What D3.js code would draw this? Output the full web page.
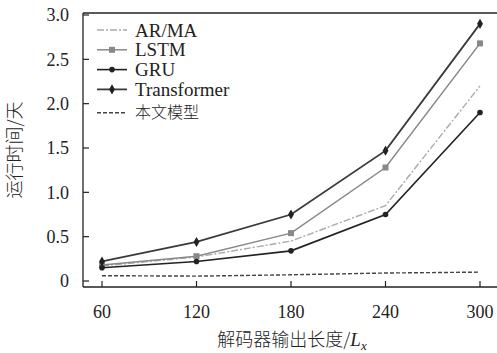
<!DOCTYPE html>
<html>
<head>
<meta charset="utf-8">
<script src="https://cdn.jsdelivr.net/npm/d3@7"></script>
<style>
  body { margin: 0; background: #fff; }
  svg { display: block; }
  text { font-family: "Liberation Serif", "Noto Sans CJK SC", serif; fill: #222; }
  .cjk { font-family: "Noto Sans CJK SC", sans-serif; font-weight: 300; }
</style>
</head>
<body>
<svg id="chart" width="497" height="353"></svg>
<script>
'use strict';

var lengths = [60, 120, 180, 240, 300];
var yTicks = [0, 0.5, 1.0, 1.5, 2.0, 2.5, 3.0];
var seriesNames = ['AR/MA', 'LSTM', 'GRU', 'Transformer', '本文模型'];
var armaValues = [0.17, 0.27, 0.45, 0.85, 2.2];
var lstmValues = [0.18, 0.28, 0.54, 1.28, 2.68];
var gruValues = [0.15, 0.22, 0.34, 0.75, 1.9];
var transformerValues = [0.22, 0.44, 0.75, 1.47, 2.9];
var oursValues = [0.06, 0.055, 0.07, 0.09, 0.1];

var svg = d3.select('#chart');
var plotLeft = 83, plotTop = 13, plotBottom = 287, plotRight = 497;

var x = d3.scaleLinear().domain([60, 300]).range([102, 480]);
var y = d3.scaleLinear().domain([0, 3]).range([281, 15]);

// series styles
var series = [
    {name: seriesNames[0], values: armaValues, color: '#aaa', width: 1.4, dash: '7,2,2,2', marker: null},
    {name: seriesNames[1], values: lstmValues, color: '#888', width: 1.5, dash: null, marker: 'square'},
    {name: seriesNames[2], values: gruValues, color: '#222', width: 1.6, dash: null, marker: 'circle'},
    {name: seriesNames[3], values: transformerValues, color: '#3a3a3a', width: 1.8, dash: null, marker: 'diamond'},
    {name: seriesNames[4], values: oursValues, color: '#444', width: 1.4, dash: '4,2', marker: null}
];

// frame: left, top, bottom lines
svg.append('line').attr('x1', plotLeft).attr('x2', plotLeft).attr('y1', plotTop).attr('y2', plotBottom)
    .attr('stroke', '#222').attr('stroke-width', 1.3);
svg.append('line').attr('x1', plotLeft).attr('x2', plotRight).attr('y1', plotTop).attr('y2', plotTop)
    .attr('stroke', '#222').attr('stroke-width', 1.3);
svg.append('line').attr('x1', plotLeft).attr('x2', plotRight).attr('y1', plotBottom).attr('y2', plotBottom)
    .attr('stroke', '#222').attr('stroke-width', 1.3);

// y ticks (inward)
var yg = svg.append('g');
yTicks.forEach(function(t) {
    yg.append('line').attr('x1', plotLeft).attr('x2', plotLeft + 6)
        .attr('y1', y(t)).attr('y2', y(t)).attr('stroke', '#222').attr('stroke-width', 1.2);
    yg.append('text').attr('x', 69).attr('y', y(t)).attr('dy', '0.35em')
        .attr('text-anchor', 'end').attr('font-size', 18)
        .text(t === 0 ? '0' : d3.format('.1f')(t));
});

// x ticks (inward)
var xg = svg.append('g');
lengths.forEach(function(t) {
    xg.append('line').attr('x1', x(t)).attr('x2', x(t))
        .attr('y1', plotBottom).attr('y2', plotBottom - 6).attr('stroke', '#222').attr('stroke-width', 1.2);
    xg.append('text').attr('x', x(t)).attr('y', 318)
        .attr('text-anchor', 'middle').attr('font-size', 18).text(t);
});

// axis titles
svg.append('text').attr('class', 'cjk')
    .attr('transform', 'translate(21,150) rotate(-90)')
    .attr('text-anchor', 'middle').attr('font-size', 18)
    .text('运行时间/天');

var xt = svg.append('text').attr('x', 292).attr('y', 346)
    .attr('text-anchor', 'middle').attr('font-size', 18);
xt.append('tspan').attr('class', 'cjk').text('解码器输出长度/');
xt.append('tspan').attr('font-style', 'italic').attr('font-size', 19).text('L');
xt.append('tspan').attr('font-style', 'italic').attr('font-size', 13).attr('dy', 4).text('x');

function drawMarker(g, kind, cx, cy, color) {
    if(kind === 'square') {
        g.append('rect').attr('x', cx - 3).attr('y', cy - 3).attr('width', 6).attr('height', 6)
            .attr('fill', color);
    } else if(kind === 'circle') {
        g.append('circle').attr('cx', cx).attr('cy', cy).attr('r', 2.8).attr('fill', color);
    } else if(kind === 'diamond') {
        g.append('path').attr('d', d3.symbol().type(d3.symbolDiamond).size(30)())
            .attr('transform', 'translate(' + cx + ',' + cy + ')').attr('fill', '#222');
    }
}

var line = d3.line()
    .x(function(d, i) { return x(lengths[i]); })
    .y(function(d) { return y(d); });

series.forEach(function(s) {
    var g = svg.append('g');
    g.append('path').attr('d', line(s.values))
        .attr('fill', 'none').attr('stroke', s.color).attr('stroke-width', s.width)
        .attr('stroke-dasharray', s.dash);
    if(s.marker) {
        s.values.forEach(function(v, i) {
            drawMarker(g, s.marker, x(lengths[i]), y(v), s.color);
        });
    }
});

// legend
var legend = svg.append('g');
series.forEach(function(s, i) {
    var ly = 30 + i * 19.8 + (i === 4 ? 3.5 : 0);
    legend.append('line').attr('x1', 97).attr('x2', 127).attr('y1', ly).attr('y2', ly)
        .attr('stroke', s.color).attr('stroke-width', s.width).attr('stroke-dasharray', s.dash);
    if(s.marker) drawMarker(legend, s.marker, 112, ly, s.color);
    legend.append('text').attr('x', 135).attr('y', ly).attr('dy', '0.35em')
        .attr('class', i === 4 ? 'cjk' : null)
        .attr('font-size', i === 4 ? 16 : 19)
        .text(s.name);
});
</script>
</body>
</html>
